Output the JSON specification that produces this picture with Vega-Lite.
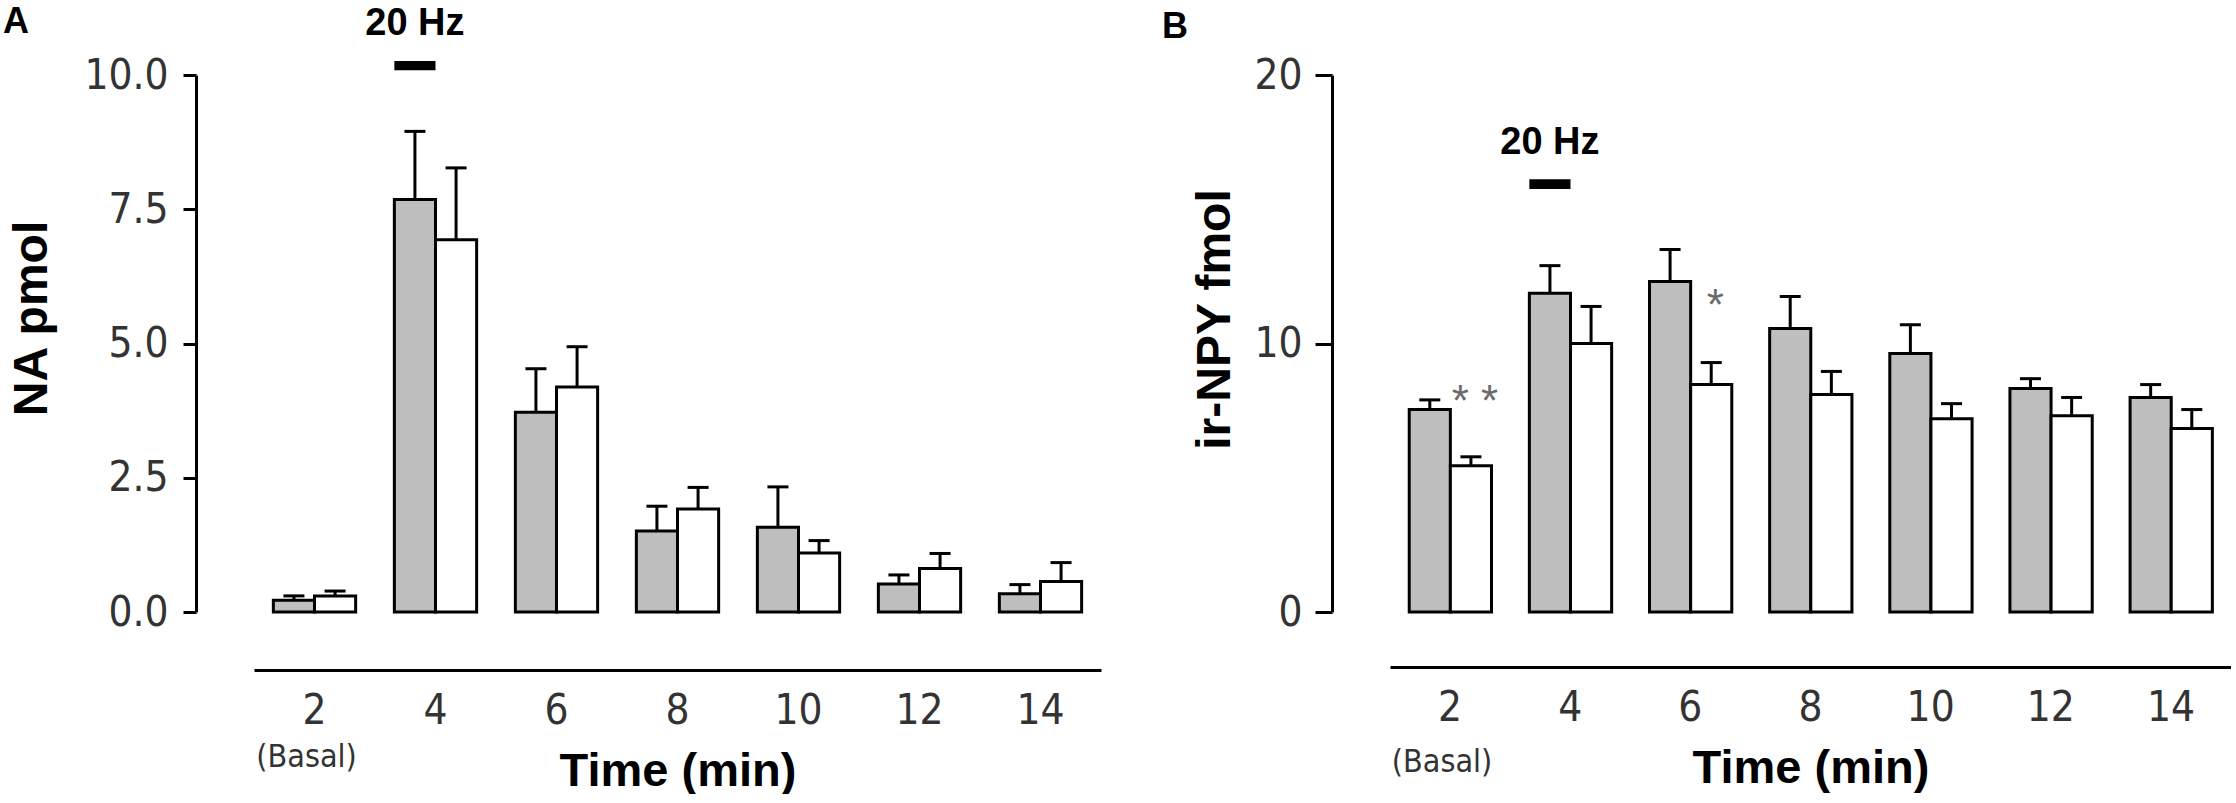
{
  "$schema": "https://vega.github.io/schema/vega-lite/v6.json",
  "background": "white",
  "padding": {"left": 2, "top": 3, "right": 0, "bottom": 0},
  "spacing": 60,
  "datasets": {
    "na": [
      {"time": 2, "condition": "control", "mean": 0.22, "upper": 0.30},
      {"time": 2, "condition": "treated", "mean": 0.30, "upper": 0.39},
      {"time": 4, "condition": "control", "mean": 7.68, "upper": 8.95},
      {"time": 4, "condition": "treated", "mean": 6.93, "upper": 8.27},
      {"time": 6, "condition": "control", "mean": 3.72, "upper": 4.53},
      {"time": 6, "condition": "treated", "mean": 4.19, "upper": 4.94},
      {"time": 8, "condition": "control", "mean": 1.51, "upper": 1.97},
      {"time": 8, "condition": "treated", "mean": 1.92, "upper": 2.32},
      {"time": 10, "condition": "control", "mean": 1.58, "upper": 2.33},
      {"time": 10, "condition": "treated", "mean": 1.10, "upper": 1.33},
      {"time": 12, "condition": "control", "mean": 0.52, "upper": 0.69},
      {"time": 12, "condition": "treated", "mean": 0.81, "upper": 1.09},
      {"time": 14, "condition": "control", "mean": 0.34, "upper": 0.51},
      {"time": 14, "condition": "treated", "mean": 0.57, "upper": 0.92}
    ],
    "npy": [
      {"time": 2, "condition": "control", "mean": 7.54, "upper": 7.90},
      {"time": 2, "condition": "treated", "mean": 5.45, "upper": 5.78},
      {"time": 4, "condition": "control", "mean": 11.87, "upper": 12.90},
      {"time": 4, "condition": "treated", "mean": 10.00, "upper": 11.38},
      {"time": 6, "condition": "control", "mean": 12.31, "upper": 13.50},
      {"time": 6, "condition": "treated", "mean": 8.47, "upper": 9.29},
      {"time": 8, "condition": "control", "mean": 10.56, "upper": 11.75},
      {"time": 8, "condition": "treated", "mean": 8.10, "upper": 8.96},
      {"time": 10, "condition": "control", "mean": 9.63, "upper": 10.70},
      {"time": 10, "condition": "treated", "mean": 7.20, "upper": 7.76},
      {"time": 12, "condition": "control", "mean": 8.32, "upper": 8.69},
      {"time": 12, "condition": "treated", "mean": 7.31, "upper": 7.99},
      {"time": 14, "condition": "control", "mean": 7.99, "upper": 8.47},
      {"time": 14, "condition": "treated", "mean": 6.83, "upper": 7.54}
    ],
    "na_stim": [
      {"time": 4, "condition": "control", "low": 10.09, "high": 10.26, "label": "20 Hz", "label_y": 10.745}
    ],
    "npy_stim": [
      {"time": 4, "condition": "control", "low": 15.75, "high": 16.12, "label": "20 Hz", "label_y": 17.05}
    ],
    "na_basal": [
      {"time": 2, "label": "(Basal)", "y": -2.70}
    ],
    "npy_basal": [
      {"time": 2, "label": "(Basal)", "y": -5.57}
    ],
    "npy_sig": [
      {"time": 2, "condition": "treated", "label": "* *", "y": 7.31},
      {"time": 6, "condition": "treated", "label": "*", "y": 10.89}
    ]
  },
  "hconcat": [
    {
      "width": 847,
      "height": 537,
      "title": {"text": "A", "fontSize": 36, "dx": -5, "dy": 36, "offset": 0},
      "encoding": {
        "x": {
          "field": "time",
          "type": "ordinal",
          "scale": {"paddingInner": 0.32, "paddingOuter": 0.16},
          "axis": {"title": "Time (min)", "offset": 58}
        }
      },
      "layer": [
        {
          "data": {"name": "na"},
          "mark": {"type": "bar", "stroke": "black", "strokeWidth": 3},
          "encoding": {
            "xOffset": {"field": "condition", "scale": {"domain": ["control", "treated"], "paddingInner": 0, "paddingOuter": 0}},
            "y": {
              "field": "mean",
              "type": "quantitative",
              "scale": {"domain": [0, 10], "nice": false},
              "title": "NA pmol",
              "axis": {"values": [0, 2.5, 5, 7.5, 10], "format": ".1f", "tickSize": 13, "labelPadding": 15, "titleX": -150, "titleY": 243}
            },
            "color": {
              "field": "condition",
              "type": "nominal",
              "scale": {"domain": ["control", "treated"], "range": ["#bebebe", "#ffffff"]},
              "legend": null
            }
          }
        },
        {
          "data": {"name": "na"},
          "mark": {"type": "rule", "color": "black", "strokeWidth": 3},
          "encoding": {
            "xOffset": {"field": "condition"},
            "y": {"field": "mean", "type": "quantitative", "title": "NA pmol"},
            "y2": {"field": "upper"}
          }
        },
        {
          "data": {"name": "na"},
          "mark": {"type": "tick", "color": "black", "size": 21, "thickness": 3, "opacity": 1},
          "encoding": {
            "xOffset": {"field": "condition"},
            "y": {"field": "upper", "type": "quantitative", "title": "NA pmol"}
          }
        },
        {
          "data": {"name": "na_stim"},
          "mark": {"type": "bar", "color": "black"},
          "encoding": {
            "xOffset": {"field": "condition"},
            "y": {"field": "low", "type": "quantitative", "title": "NA pmol"},
            "y2": {"field": "high"}
          }
        },
        {
          "data": {"name": "na_stim"},
          "mark": {"type": "text", "font": "Liberation Sans, Arial, sans-serif", "fontSize": 38, "fontWeight": "bold", "baseline": "alphabetic", "color": "black"},
          "encoding": {
            "xOffset": {"field": "condition"},
            "y": {"field": "label_y", "type": "quantitative", "title": "NA pmol"},
            "text": {"field": "label"}
          }
        },
        {
          "data": {"name": "na_basal"},
          "mark": {"type": "text", "font": "Liberation Sans Narrow, Arial Narrow, DejaVu Sans Condensed, sans-serif", "fontSize": 32, "baseline": "middle", "dx": -8, "color": "#333333"},
          "encoding": {
            "y": {"field": "y", "type": "quantitative", "title": "NA pmol"},
            "text": {"field": "label"}
          }
        }
      ]
    },
    {
      "width": 841,
      "height": 537,
      "title": {"text": "B", "fontSize": 36, "dx": -29, "offset": 8},
      "encoding": {
        "x": {
          "field": "time",
          "type": "ordinal",
          "scale": {"paddingInner": 0.32, "paddingOuter": 0.16},
          "axis": {"title": "Time (min)", "offset": 55}
        }
      },
      "layer": [
        {
          "data": {"name": "npy"},
          "mark": {"type": "bar", "stroke": "black", "strokeWidth": 3},
          "encoding": {
            "xOffset": {"field": "condition", "scale": {"domain": ["control", "treated"], "paddingInner": 0, "paddingOuter": 0}},
            "y": {
              "field": "mean",
              "type": "quantitative",
              "scale": {"domain": [0, 20], "nice": false},
              "title": "ir-NPY fmol",
              "axis": {"values": [0, 10, 20], "format": "d", "tickSize": 17, "labelPadding": 13, "titleX": -103, "titleY": 244}
            },
            "color": {
              "field": "condition",
              "type": "nominal",
              "scale": {"domain": ["control", "treated"], "range": ["#bebebe", "#ffffff"]},
              "legend": null
            }
          }
        },
        {
          "data": {"name": "npy"},
          "mark": {"type": "rule", "color": "black", "strokeWidth": 3},
          "encoding": {
            "xOffset": {"field": "condition"},
            "y": {"field": "mean", "type": "quantitative", "title": "ir-NPY fmol"},
            "y2": {"field": "upper"}
          }
        },
        {
          "data": {"name": "npy"},
          "mark": {"type": "tick", "color": "black", "size": 21, "thickness": 3, "opacity": 1},
          "encoding": {
            "xOffset": {"field": "condition"},
            "y": {"field": "upper", "type": "quantitative", "title": "ir-NPY fmol"}
          }
        },
        {
          "data": {"name": "npy_stim"},
          "mark": {"type": "bar", "color": "black"},
          "encoding": {
            "xOffset": {"field": "condition"},
            "y": {"field": "low", "type": "quantitative", "title": "ir-NPY fmol"},
            "y2": {"field": "high"}
          }
        },
        {
          "data": {"name": "npy_stim"},
          "mark": {"type": "text", "font": "Liberation Sans, Arial, sans-serif", "fontSize": 38, "fontWeight": "bold", "baseline": "alphabetic", "color": "black"},
          "encoding": {
            "xOffset": {"field": "condition"},
            "y": {"field": "label_y", "type": "quantitative", "title": "ir-NPY fmol"},
            "text": {"field": "label"}
          }
        },
        {
          "data": {"name": "npy_sig"},
          "mark": {"type": "text", "font": "Liberation Sans, Arial, sans-serif", "fontSize": 44, "baseline": "alphabetic", "dx": 4, "color": "#6a6a6a"},
          "encoding": {
            "xOffset": {"field": "condition"},
            "y": {"field": "y", "type": "quantitative", "title": "ir-NPY fmol"},
            "text": {"field": "label"}
          }
        },
        {
          "data": {"name": "npy_basal"},
          "mark": {"type": "text", "font": "Liberation Sans Narrow, Arial Narrow, DejaVu Sans Condensed, sans-serif", "fontSize": 32, "baseline": "middle", "dx": -8, "color": "#333333"},
          "encoding": {
            "y": {"field": "y", "type": "quantitative", "title": "ir-NPY fmol"},
            "text": {"field": "label"}
          }
        }
      ]
    }
  ],
  "config": {
    "view": {"stroke": null},
    "axis": {
      "grid": false,
      "domainColor": "black",
      "domainWidth": 3,
      "tickColor": "black",
      "tickWidth": 3,
      "labelFont": "Liberation Sans Narrow, Arial Narrow, DejaVu Sans Condensed, sans-serif",
      "labelFontSize": 42,
      "labelColor": "#333333",
      "titleFont": "Liberation Sans, Arial, sans-serif",
      "titleFontWeight": "bold",
      "titleColor": "black"
    },
    "axisX": {
      "ticks": false,
      "tickSize": 0,
      "labelAngle": 0,
      "labelPadding": 20,
      "titleFontSize": 47,
      "titlePadding": 17
    },
    "axisY": {
      "offset": 58,
      "titleFontSize": 48,
      "titleBaseline": "alphabetic"
    },
    "title": {
      "font": "Liberation Sans, Arial, sans-serif",
      "fontSize": 36,
      "fontWeight": "bold",
      "anchor": "start",
      "frame": "bounds",
      "color": "black"
    }
  }
}
